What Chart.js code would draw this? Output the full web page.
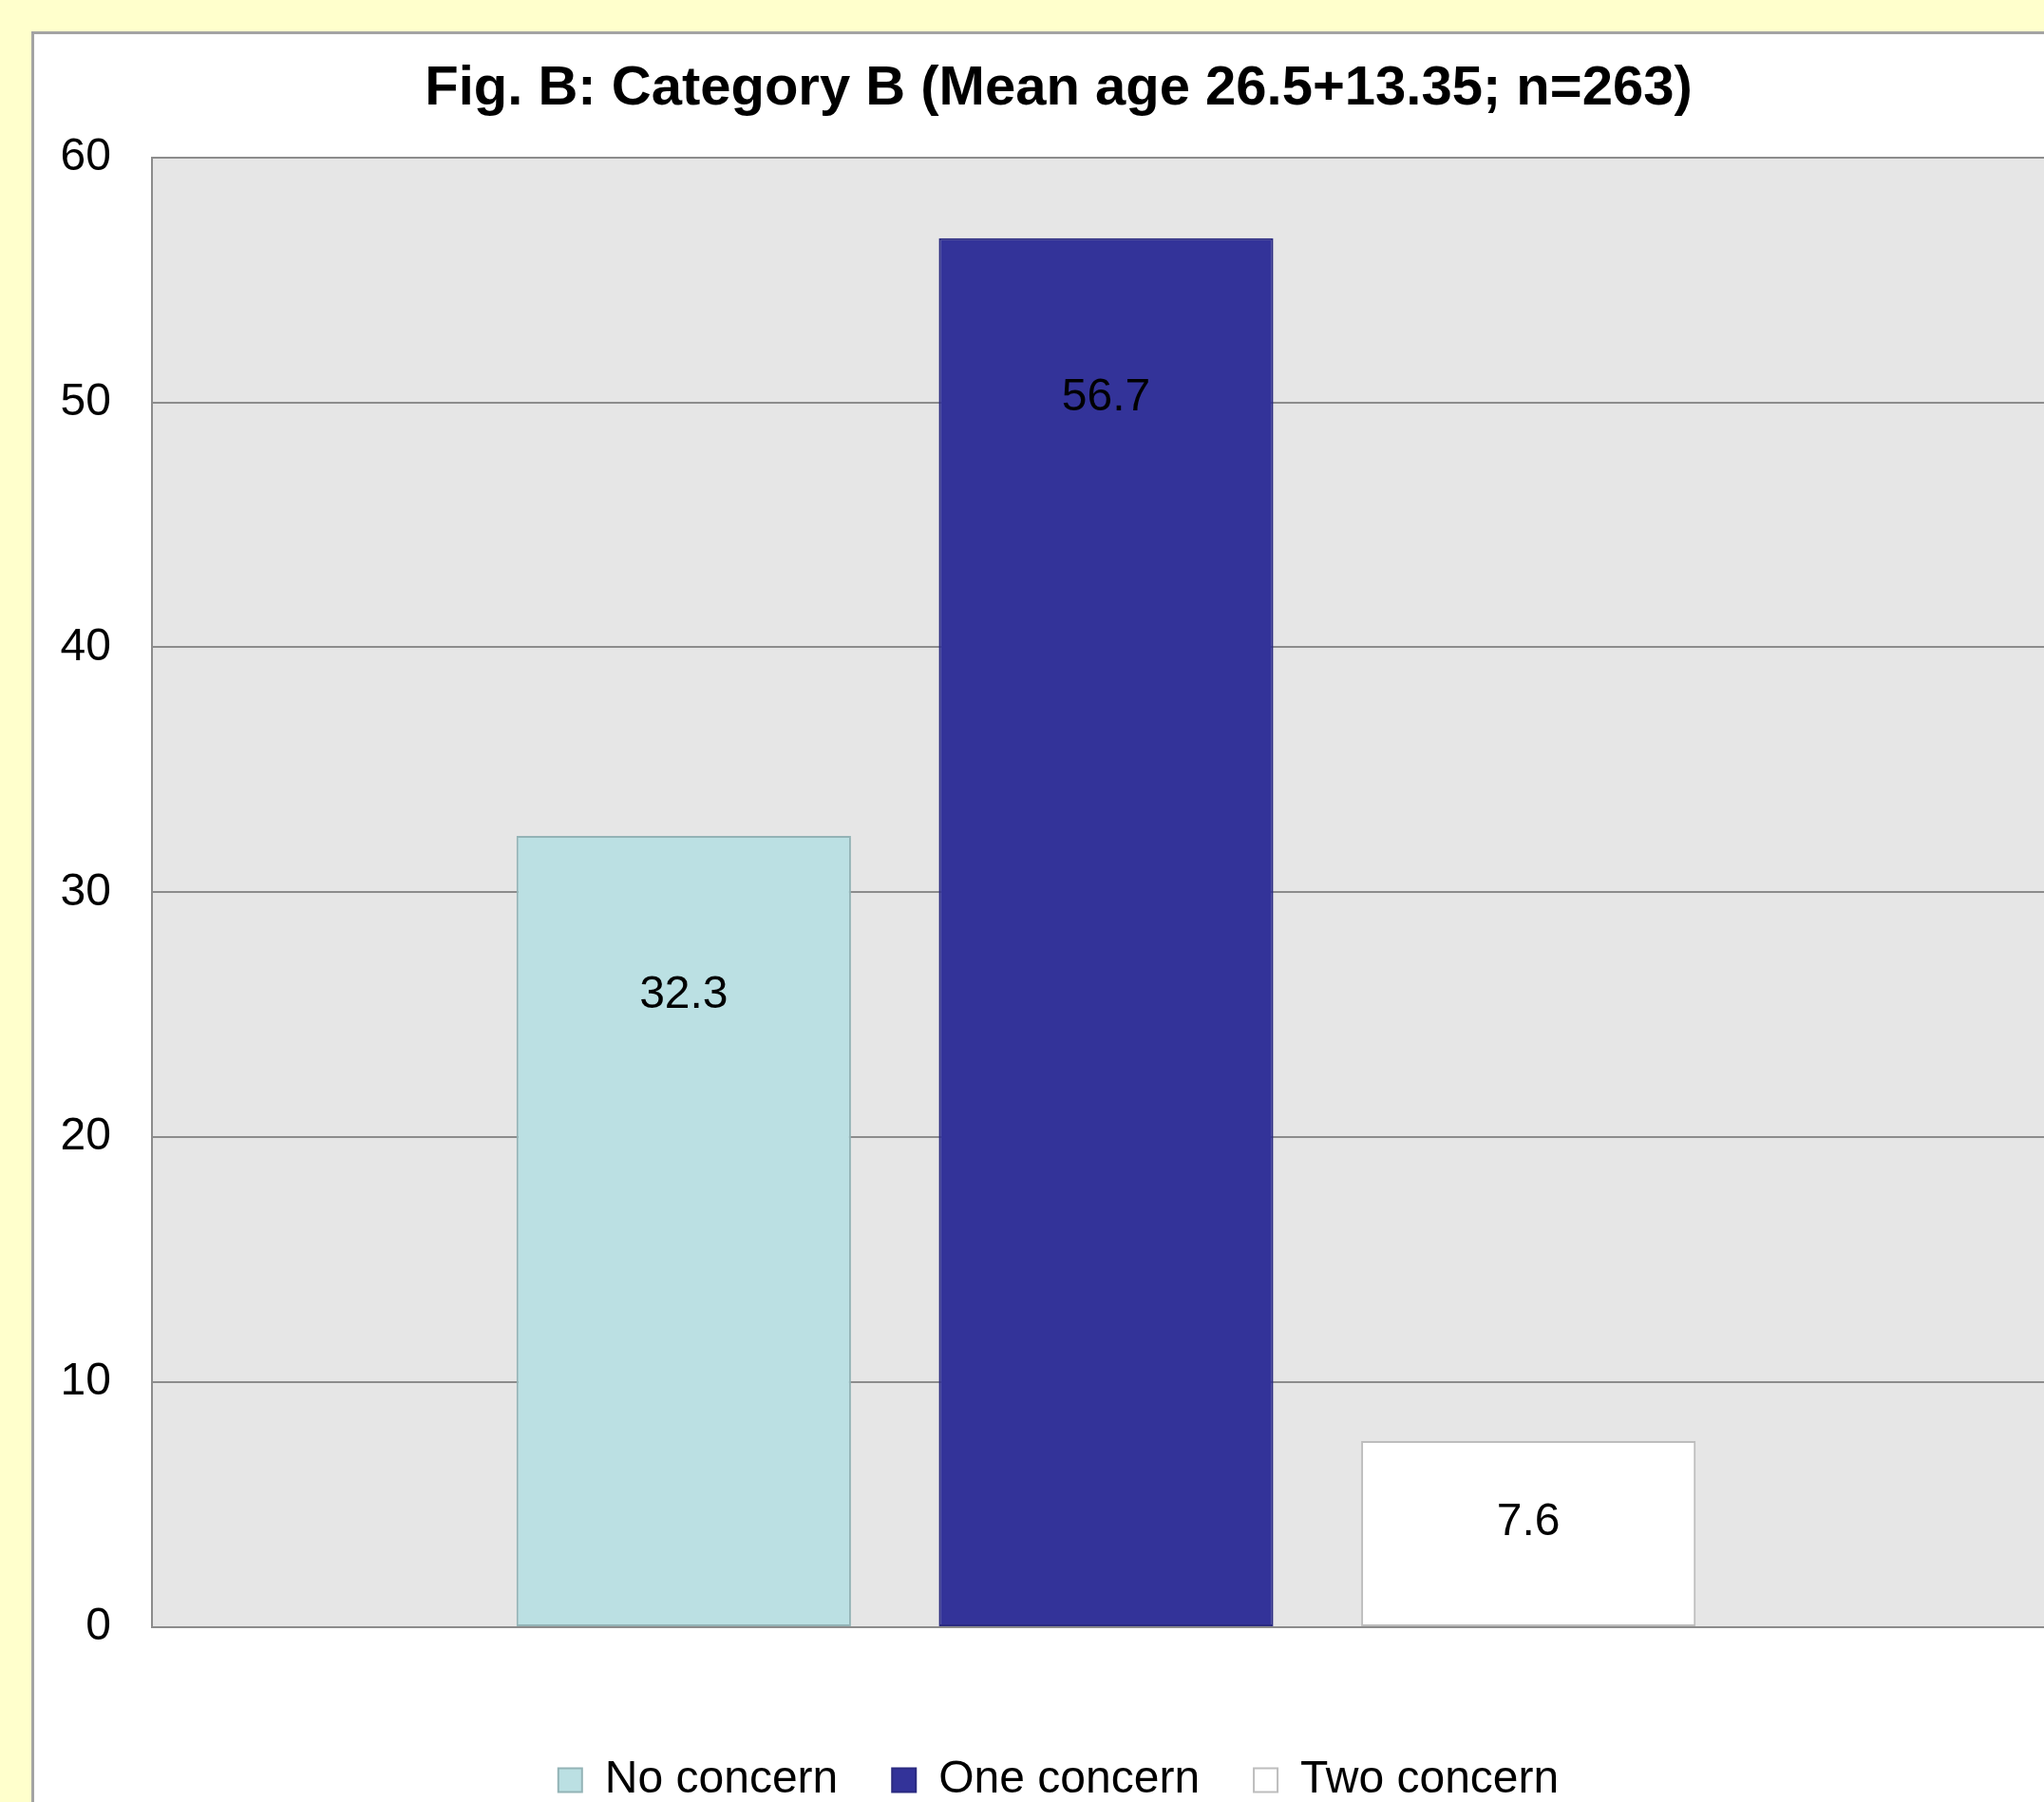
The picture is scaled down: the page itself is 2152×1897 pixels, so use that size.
<!DOCTYPE html>
<html>
<head>
<meta charset="utf-8">
<script src="https://cdn.jsdelivr.net/npm/chart.js@4/dist/chart.umd.min.js"></script>
<style>
  html, body { margin: 0; padding: 0; background: #ffffcc; overflow: hidden; width: 2152px; height: 1897px; }
  #frame { position: absolute; left: 33px; top: 33px; border: 3px solid #a3a3a3; background: #ffffff; width: 2168px; height: 1872px; }
  canvas { display: block; }
</style>
</head>
<body>
<div id="frame"><canvas id="c" width="2168" height="1872" style="width:2168px;height:1872px"></canvas></div>
<script>
// Chart content
const chartTitle = 'Fig. B: Category B (Mean age 26.5+13.35; n=263)';
const categories = [''];
const seriesNames = ['No concern', 'One concern', 'Two concern'];
const seriesValues = [[32.3], [56.7], [7.6]];
const yTicks = [0, 10, 20, 30, 40, 50, 60];

// Styling
const fillColors = ['#bbe0e3', '#333399', '#ffffff'];
const edgeColors = ['#93b3b6', '#2a2a80', '#bdbdbd'];
const FONT = '"Liberation Sans", Arial, sans-serif';

// Grey plotting area behind the bars
const plotBackground = {
  id: 'plotBackground',
  beforeDraw(chart) {
    const { ctx, chartArea: a } = chart;
    ctx.save();
    ctx.fillStyle = '#e6e6e6';
    ctx.fillRect(a.left, a.top, a.right - a.left, a.bottom - a.top);
    ctx.restore();
  }
};

// Value labels inside each bar
const valueLabels = {
  id: 'valueLabels',
  afterDatasetsDraw(chart) {
    const ctx = chart.ctx;
    ctx.save();
    ctx.font = '48px ' + FONT;
    ctx.fillStyle = '#000000';
    ctx.textAlign = 'center';
    ctx.textBaseline = 'middle';
    chart.data.datasets.forEach((ds, i) => {
      chart.getDatasetMeta(i).data.forEach((bar, j) => {
        const h = bar.base - bar.y;
        const y = bar.y + Math.min(168, h / 2 - 12);
        ctx.fillText(ds.data[j].toFixed(1), bar.x, y);
      });
    });
    ctx.restore();
  }
};

new Chart(document.getElementById('c'), {
  type: 'bar',
  data: {
    labels: categories,
    datasets: seriesNames.map((name, i) => ({
      label: name,
      data: seriesValues[i],
      backgroundColor: fillColors[i],
      borderColor: edgeColors[i],
      borderWidth: 2,
      borderSkipped: false,
      categoryPercentage: 0.664,
      barPercentage: 0.792
    }))
  },
  options: {
    responsive: false,
    animation: false,
    devicePixelRatio: 1,
    layout: { padding: { left: 24, right: 35, top: 0, bottom: 0 } },
    plugins: {
      title: {
        display: true,
        text: chartTitle,
        color: '#000000',
        font: { family: FONT, size: 58, weight: 'bold', lineHeight: 1.2 },
        padding: { top: 23, bottom: 37 }
      },
      legend: {
        display: true,
        position: 'bottom',
        labels: {
          color: '#000000',
          font: { family: FONT, size: 48 },
          boxWidth: 25,
          boxHeight: 25,
          padding: 57
        }
      },
      tooltip: { enabled: false }
    },
    scales: {
      x: {
        grid: { display: false, drawTicks: false },
        ticks: { display: false },
        border: { display: false },
        afterFit(s) { s.height = 80; }
      },
      y: {
        min: 0,
        max: 60,
        afterBuildTicks(s) { s.ticks = yTicks.map(v => ({ value: v })); },
        ticks: { color: '#000000', font: { family: FONT, size: 48 }, padding: 43 },
        grid: { color: '#8c8c8c', lineWidth: 2, drawTicks: false },
        border: { display: true, color: '#8c8c8c', width: 2 },
        afterFit(s) { s.width = 100; }
      }
    }
  },
  plugins: [plotBackground, valueLabels]
});
</script>
</body>
</html>
